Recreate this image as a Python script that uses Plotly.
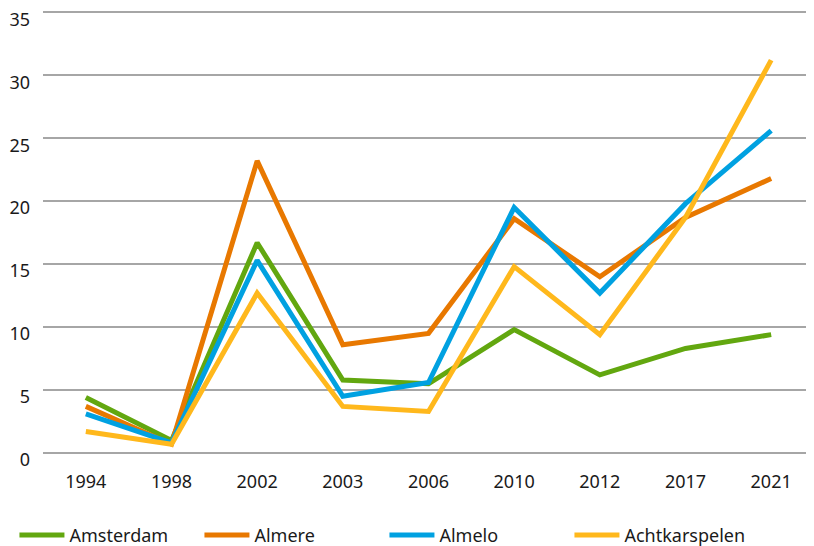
import plotly.graph_objects as go

years = ["1994", "1998", "2002", "2003", "2006", "2010", "2012", "2017", "2021"]
amsterdam = [4.4, 1.0, 16.7, 5.8, 5.5, 9.8, 6.2, 8.3, 9.4]
almere = [3.7, 0.7, 23.2, 8.6, 9.5, 18.6, 14.0, 18.7, 21.8]
almelo = [3.1, 0.8, 15.3, 4.5, 5.6, 19.5, 12.7, 19.8, 25.6]
achtkarspelen = [1.7, 0.7, 12.7, 3.7, 3.3, 14.8, 9.4, 18.7, 31.2]

series = [
    ("Amsterdam", amsterdam, "#62A70F"),
    ("Almere", almere, "#E87800"),
    ("Almelo", almelo, "#00A1E1"),
    ("Achtkarspelen", achtkarspelen, "#FFB81C"),
]

fig = go.Figure()
for name, vals, color in series:
    fig.add_trace(go.Scatter(x=years, y=vals, mode="lines", name=name,
                             line=dict(color=color, width=5)))

# page body has an 8px margin, so the figure is 8px smaller than the window
fig.update_layout(
    width=806,
    height=538,
    plot_bgcolor="white",
    paper_bgcolor="white",
    font=dict(family="Noto Sans", size=18, color="#1a1a1a"),
    margin=dict(l=35, r=0, t=3, b=93, autoexpand=False),
    showlegend=True,
    legend=dict(orientation="h", x=0.008, xref="container", y=0.02, yref="container",
                xanchor="left", yanchor="middle",
                font=dict(size=18), entrywidth=125, itemwidth=45),
    xaxis=dict(type="category", range=[-0.5, 8.5], showgrid=False, showline=False,
               ticks="", ticklabelstandoff=16),
    yaxis=dict(range=[0, 35.1], tickvals=[0, 5, 10, 15, 20, 25, 30, 35],
               gridcolor="#A6A6A6", gridwidth=1.5,
               zeroline=True, zerolinecolor="#A6A6A6", zerolinewidth=2,
               showline=False, ticks="", ticklabelstandoff=12,
               ticklabelshift=7, ticklabeloverflow="allow"),
)

fig.write_html("out.html")
